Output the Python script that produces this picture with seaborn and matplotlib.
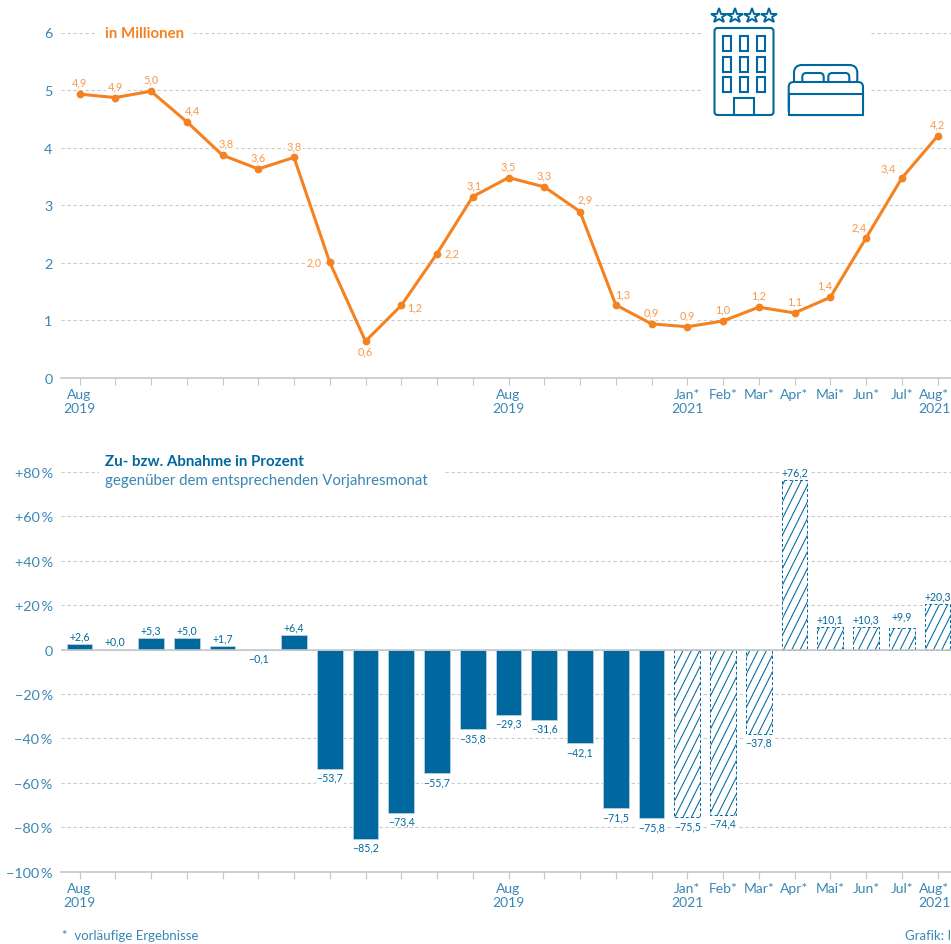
import numpy as np
import pandas as pd
import matplotlib
matplotlib.use("Agg")
import matplotlib.pyplot as plt
import matplotlib.hatch as mhatch
from matplotlib.path import Path
from matplotlib.patches import Rectangle, FancyBboxPatch
import seaborn as sns

# ---------- data ----------
months = list(range(25))
overnights = [4.93, 4.87, 4.98, 4.45, 3.87, 3.63, 3.83, 2.01, 0.64, 1.26, 2.16, 3.15, 3.48,
              3.32, 2.89, 1.27, 0.94, 0.89, 0.99, 1.23, 1.13, 1.40, 2.43, 3.47, 4.20]
overnight_labels = ["4,9", "4,9", "5,0", "4,4", "3,8", "3,6", "3,8", "2,0", "0,6", "1,2", "2,2", "3,1", "3,5",
                    "3,3", "2,9", "1,3", "0,9", "0,9", "1,0", "1,2", "1,1", "1,4", "2,4", "3,4", "4,2"]
change_pct = [2.6, 0.0, 5.3, 5.0, 1.7, -0.1, 6.4, -53.7, -85.2, -73.4, -55.7, -35.8, -29.3,
              -31.6, -42.1, -71.5, -75.8, -75.5, -74.4, -37.8, 76.2, 10.1, 10.3, 9.9, 20.3]
first_preliminary = 17
tick_labels = {0: "Aug\n2019", 12: "Aug\n2019", 17: "Jan*\n2021", 18: "Feb*", 19: "Mar*", 20: "Apr*",
               21: "Mai*", 22: "Jun*", 23: "Jul*"}
last_tick_label = "Aug*\n2021"
top_yticks = [0, 1, 2, 3, 4, 5, 6]
bottom_yticks = [-100, -80, -60, -40, -20, 0, 20, 40, 60, 80]

# ---------- style ----------
ORANGE = "#f58220"
ORANGE_L = "#f7994a"
BLUE = "#00689f"
BLUE_L = "#3a87b4"
GRID = "#c9c9c9"
AXIS = "#c4c8ca"
W, H = 951, 945


class SteepHatch(mhatch.HatchPatternBase):
    """Steep north-east hatch like the reference (slope 2, about 8 px apart)."""
    def __init__(self, hatch, density):
        self.num_lines = 12 * hatch.count("/")
        self.starts = np.arange(-self.num_lines // 2, self.num_lines + 1) / max(self.num_lines, 1)
        self.num_vertices = len(self.starts) * 2 if self.num_lines else 0

    def set_vertices_and_codes(self, vertices, codes):
        vertices[0::2, 0] = self.starts
        vertices[0::2, 1] = 0.0
        vertices[1::2, 0] = self.starts + 0.5
        vertices[1::2, 1] = 1.0
        codes[0::2] = Path.MOVETO
        codes[1::2] = Path.LINETO


mhatch._hatch_types[mhatch._hatch_types.index(mhatch.NorthEastHatch)] = SteepHatch

sns.set_theme(style="white")
plt.rcParams["font.family"] = ["Lato", "DejaVu Sans"]
plt.rcParams["hatch.linewidth"] = 0.75

fig = plt.figure(figsize=(W / 100, H / 100), dpi=100)
fig.patch.set_facecolor("white")


def axes_px(left, top, right, bottom):
    return fig.add_axes([left / W, 1 - bottom / H, (right - left) / W, (bottom - top) / H])


def style_axes(ax, yticks, ylabels):
    step = 35.75
    ax.set_xlim(-(79.5 - 61) / step, (951 - 79.5) / step)
    ax.set_yticks(yticks, ylabels)
    ax.set_xticks(months, [tick_labels.get(m, "") for m in months])
    ax.tick_params(axis="x", length=5, width=0.8, color=AXIS, labelcolor=BLUE_L, labelsize=10, pad=2.4, bottom=True)
    ax.tick_params(axis="y", length=0, labelcolor=BLUE_L, labelsize=10.4, pad=6)
    ax.set_xlabel("")
    ax.set_ylabel("")
    for s in ["top", "right", "left"]:
        ax.spines[s].set_visible(False)
    ax.spines["bottom"].set_color(AXIS)
    ax.spines["bottom"].set_linewidth(1.2)
    ax.set_facecolor("none")
    ax.set_axisbelow(True)
    ax.grid(False)
    for y in yticks:
        if y != yticks[0]:
            ax.axhline(y, color=GRID, lw=0.8, ls=(0, (3, 2.4)), zorder=0)
    # the last month label sits flush with the right edge of the picture
    ax.annotate(last_tick_label, (months[-1], yticks[0]), xytext=(13 * 0.72, -7.2), textcoords="offset points",
                ha="right", va="top", ma="center", fontsize=10, color=BLUE_L, annotation_clip=False)


# ---------- top chart ----------
ax1 = axes_px(61, 33.5, 951, 379)
sns.lineplot(data=pd.DataFrame({"m": months, "v": overnights}), x="m", y="v", ax=ax1, color=ORANGE,
             lw=2.2, marker="o", markersize=5.6, markeredgewidth=0, clip_on=False, zorder=4, errorbar=None)
ax1.set_ylim(0, 6)
style_axes(ax1, top_yticks, [str(t) for t in top_yticks])

# label offsets in px (dx, dy upward)
offs = {3: (6, 12), 4: (4, 12.5), 7: (-16, 0), 8: (0, -10), 9: (13, -1), 10: (15, 0.5), 11: (1, 12),
        14: (5, 12.5), 15: (7, 11), 21: (-6, 12), 22: (-7, 11), 23: (-14, 10.5)}
for m, v, t in zip(months, overnights, overnight_labels):
    dx, dy = offs.get(m, (0, 12))
    ax1.annotate(t, (m, v), xytext=(dx * 0.72, dy * 0.72), textcoords="offset points", ha="center", va="center",
                 fontsize=7.8, color=ORANGE_L, zorder=3, annotation_clip=False,
                 bbox=dict(fc="white", ec="none", pad=1.2))

# ---------- bottom chart ----------
ax2 = axes_px(61, 472.8, 951, 872.8)
sns.barplot(data=pd.DataFrame({"m": months, "v": change_pct}), x="m", y="v", ax=ax2, color=BLUE, saturation=1,
            width=0.72, errorbar=None, zorder=2, edgecolor="#b9cfdd", linewidth=0.6)
ax2.set_ylim(-100, 80)


def pct(t):
    if t == 0:
        return "0"
    return ("+" if t > 0 else "\u2212") + f"{abs(t)}\u2009%"


style_axes(ax2, bottom_yticks, [pct(t) for t in bottom_yticks])
ax2.axhline(0, color=AXIS, lw=1.2, zorder=3)

for m, bar in zip(months, ax2.patches):
    if m >= first_preliminary:
        bar.set_facecolor("white")
        bar.set_edgecolor(BLUE)
        bar.set_hatch("/")
        bar.set_linewidth(0.7)
        bar.set_linestyle((0, (3, 2.4)))

for m, v in zip(months, change_pct):
    txt = ("+" if v >= 0 else "\u2212") + f"{abs(v):.1f}".replace(".", ",")
    dy = 8.2 if v >= 0 else -8.4
    if m == 23:
        dy = 12
    ax2.annotate(txt, (m, v), xytext=(0, dy * 0.72), textcoords="offset points", ha="center", va="center",
                 fontsize=7.6, color=BLUE, zorder=5, annotation_clip=False,
                 bbox=dict(fc="white", ec="none", pad=0.6))

# ---------- overlay: titles, footers, icon ----------
ov = fig.add_axes([0, 0, 1, 1], zorder=10)
ov.set_xlim(0, W)
ov.set_ylim(H, 0)
ov.axis("off")
ov.patch.set_alpha(0)

ov.add_patch(Rectangle((97, 25), 93, 16, fc="white", ec="none"))
ov.add_patch(Rectangle((99, 452), 346, 40, fc="white", ec="none"))
ov.add_patch(Rectangle((702, 0), 169, 118, fc="white", ec="none"))

ov.text(105, 34, "in Millionen", color=ORANGE, fontsize=10.8, fontweight="bold", va="center", ha="left")
ov.text(105, 461.5, "Zu- bzw. Abnahme in Prozent", color=BLUE, fontsize=10.9, fontweight="bold", va="center", ha="left")
ov.text(105, 481.5, "gegenüber dem entsprechenden Vorjahresmonat", color=BLUE_L, fontsize=10.85, va="center", ha="left")
ov.text(62, 936.5, "*  vorläufige Ergebnisse", color=BLUE_L, fontsize=9.5, va="center", ha="left")
ov.text(905, 936.5, "Grafik: I", color=BLUE_L, fontsize=9.5, va="center", ha="left")

ICON = dict(fc="white", ec=BLUE, lw=1.5)
ov.plot([718.7, 735.3, 752.3, 769], [17] * 4, ls="none", marker="*", ms=11.5, mfc="white", mec=BLUE, mew=1.4)
ov.add_patch(FancyBboxPatch((714.5, 29), 59, 87, boxstyle="round,pad=0,rounding_size=3", **ICON))
for wx in (723.3, 740, 756.7):
    for wy in (36.7, 57.7, 78.3):
        ov.add_patch(Rectangle((wx, wy), 8, 15, **ICON))
ov.add_patch(Rectangle((734.3, 99), 19.4, 17, **ICON))
ov.add_patch(FancyBboxPatch((794, 66), 63.3, 22, boxstyle="round,pad=0,rounding_size=8", **ICON))
ov.add_patch(FancyBboxPatch((802.3, 74), 21.4, 12, boxstyle="round,pad=0,rounding_size=4", **ICON))
ov.add_patch(FancyBboxPatch((828.3, 74), 21, 12, boxstyle="round,pad=0,rounding_size=4", **ICON))
ov.add_patch(FancyBboxPatch((788.7, 83), 74.3, 33, boxstyle="round,pad=0,rounding_size=5", **ICON))
ov.add_patch(Rectangle((788.7, 95), 74.3, 21, **ICON))

fig.savefig("out.png", dpi=100, facecolor="white")
